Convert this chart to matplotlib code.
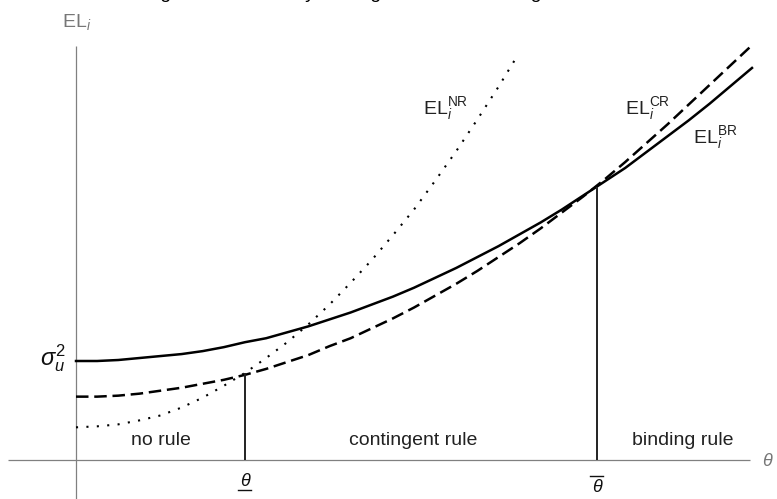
import matplotlib
matplotlib.use("Agg")
import matplotlib.pyplot as plt

plt.rcParams['font.family'] = ['Liberation Sans', 'DejaVu Sans']
plt.rcParams['mathtext.fontset'] = 'custom'
plt.rcParams['mathtext.rm'] = 'Liberation Sans'
plt.rcParams['mathtext.it'] = 'Liberation Sans:italic'
plt.rcParams['mathtext.bf'] = 'Liberation Sans:bold'

# ---- data ----
theta = [0.0, 0.125, 0.25, 0.375, 0.5, 0.625, 0.75, 0.875, 1.0, 1.125, 1.25,
         1.375, 1.5, 1.625, 1.75, 1.875, 2.0, 2.125, 2.25, 2.375, 2.5, 2.625,
         2.75, 2.875, 3.0, 3.125, 3.25, 3.375, 3.5, 3.625, 3.75, 3.875, 4.0]
loss_br = [1.00, 1.00, 1.01, 1.03, 1.05, 1.07, 1.10, 1.14, 1.19, 1.23, 1.29,
           1.35, 1.42, 1.49, 1.57, 1.65, 1.74, 1.84, 1.94, 2.05, 2.16, 2.28,
           2.40, 2.53, 2.67, 2.81, 2.95, 3.11, 3.27, 3.43, 3.60, 3.78, 3.96]
loss_cr = [0.64, 0.64, 0.65, 0.67, 0.70, 0.73, 0.77, 0.81, 0.86, 0.92, 0.99,
           1.06, 1.15, 1.23, 1.33, 1.43, 1.54, 1.66, 1.78, 1.91, 2.05, 2.19,
           2.34, 2.50, 2.66, 2.83, 3.01, 3.20, 3.39, 3.59, 3.79, 3.99, 4.19]
theta_nr = [0.0, 0.125, 0.25, 0.375, 0.5, 0.625, 0.75, 0.875, 1.0, 1.125,
            1.25, 1.375, 1.5, 1.625, 1.75, 1.875, 2.0, 2.125, 2.25, 2.375,
            2.5, 2.6]
loss_nr = [0.33, 0.34, 0.36, 0.40, 0.45, 0.53, 0.63, 0.75, 0.88, 1.03,
           1.19, 1.37, 1.57, 1.79, 2.02, 2.27, 2.53, 2.82, 3.12, 3.44,
           3.77, 4.05]

thresholds = [1.0, 3.08]          # theta_low, theta_high
threshold_loss = [0.88, 2.76]     # height of the vertical markers
regions = ["no rule", "contingent rule", "binding rule"]
curve_labels = [r"$\mathrm{EL}_{i}^{\mathrm{NR}}$",
                r"$\mathrm{EL}_{i}^{\mathrm{CR}}$",
                r"$\mathrm{EL}_{i}^{\mathrm{BR}}$"]
title = "Figure 3: Losses by the regime and rule design"

# ---- layout helpers (pixel -> data) ----
X0, SX, Y0, SY = 76, 169.0, 460, 99.0
def px(p):
    return (p - X0) / SX
def py(p):
    return (Y0 - p) / SY

fig = plt.figure(figsize=(7.77, 4.99), dpi=100)
ax = fig.add_axes([0, 0, 1, 1])
ax.set_xlim(px(0), px(777))
ax.set_ylim(py(499), py(0))
ax.axis('off')

axis_col = '#808080'
# axes
ax.plot([px(8), px(750)], [0, 0], color=axis_col, lw=0.9, solid_capstyle='butt')
ax.plot([0, 0], [py(499), py(46)], color=axis_col, lw=0.9, solid_capstyle='butt')

# curves
ax.plot(theta_nr, loss_nr, color='black', lw=1.5, dashes=(1, 4),
        dash_capstyle='butt')
ax.plot(theta, loss_cr, color='black', lw=1.8, dashes=(5, 2.3),
        dash_capstyle='butt')
ax.plot(theta, loss_br, color='black', lw=1.8)

# threshold markers
for t, h in zip(thresholds, threshold_loss):
    ax.plot([t, t], [0, h], color='#222222', lw=1.4, solid_capstyle='butt')

# threshold labels
ax.text(thresholds[0], py(481), "θ", fontsize=13, style='italic',
        ha='center', va='center', color='#111111')
ax.plot([px(238), px(251)], [py(489.5), py(489.5)], color='#111111', lw=1.0)
ax.text(thresholds[1], py(488), "θ", fontsize=13, style='italic',
        ha='center', va='center', color='#111111')
ax.plot([px(590), px(603)], [py(476), py(476)], color='#111111', lw=1.0)

# region labels
reg_x = [161, 413, 683]
for r, x in zip(regions, reg_x):
    ax.text(px(x), py(445), r, fontsize=14, ha='center', va='baseline',
            color='#222222')

# curve labels
lab_pos = [(423, 114), (625, 114), (693, 143)]
for lab, (x, y) in zip(curve_labels, lab_pos):
    ax.text(px(x), py(y), lab, fontsize=14, ha='left', va='baseline',
            color='#222222')

# axis labels
ax.text(px(62), py(27), r"$\mathrm{EL}_{i}$", fontsize=14, ha='left',
        va='baseline', color='#777777')
ax.text(px(762), py(461), "θ", fontsize=13, style='italic', ha='left',
        va='center', color='#777777')
ax.text(px(66), py(365), r"$\sigma_u^2$", fontsize=17, ha='right',
        va='baseline', color='#111111')

# title, cropped at the very top of the picture (only descenders show)
ax.text(px(144), py(-2.0), title, fontsize=14, ha='left', va='baseline',
        color='black', clip_on=False)

fig.savefig("out.png", dpi=100)
